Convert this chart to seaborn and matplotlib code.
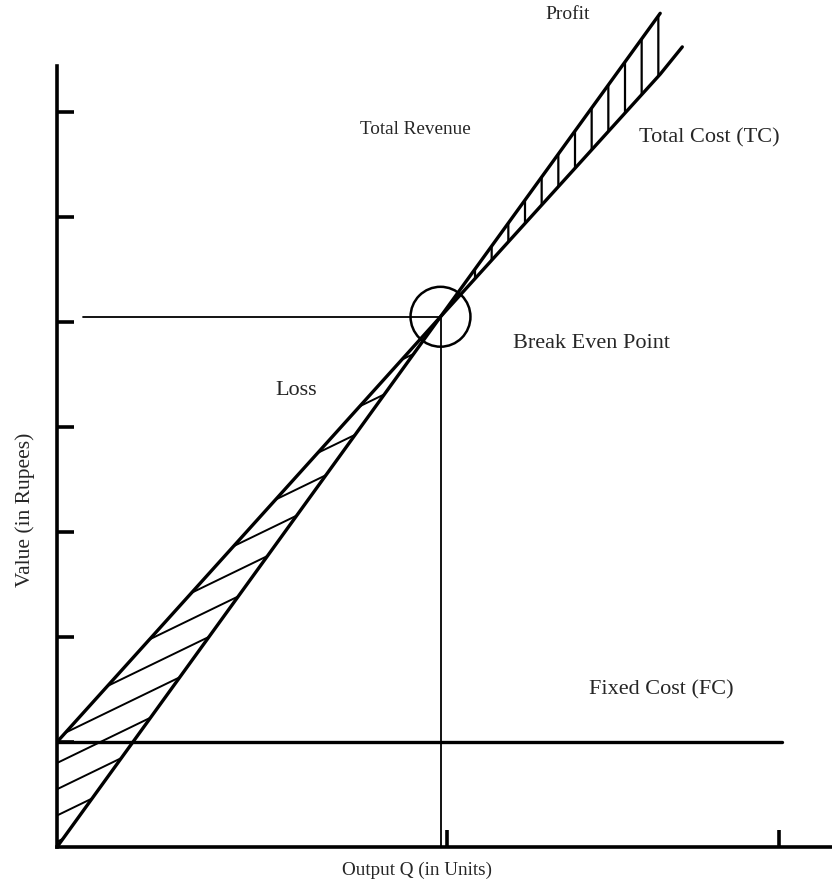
import numpy as np
import pandas as pd
import seaborn as sns
import matplotlib.pyplot as plt
from matplotlib.collections import LineCollection
from matplotlib.patches import Polygon

# break-even chart, values in chart units (output Q, value in rupees)
fc_value = 1.0
bep_q, bep_v = 5.9, 5.05

tr_q = [0.0, 5.9, 9.28]
tr_v = [0.0, 5.05, 7.94]

tc_q = [0.0, 5.9, 9.28, 9.62]
tc_v = [1.0, 5.05, 7.36, 7.62]

fc_q = [0.0, 11.15]
fc_v = [1.0, 1.0]

y_ticks = [1, 2, 3, 4, 5, 6, 7]
x_ticks = [6.0, 11.1]

# text, position, font size
labels = [
    ('Profit', 7.85, 7.93, 14),
    ('Total Revenue', 5.51, 6.83, 13.8),
    ('Total Cost (TC)', 10.03, 6.75, 16),
    ('Break Even Point', 8.23, 4.80, 16),
    ('Loss', 3.68, 4.35, 16),
    ('Fixed Cost (FC)', 9.29, 1.50, 16),
]

sns.set_style("white")
plt.rcParams['font.family'] = ['Liberation Serif', 'DejaVu Serif']
plt.rcParams['hatch.linewidth'] = 1.6

fig = plt.figure(figsize=(8.32, 8.83), dpi=100)
ax = fig.add_axes([57 / 832, 36 / 883, 775 / 832, 847 / 883])

lines = pd.concat([
    pd.DataFrame({'q': tr_q, 'v': tr_v, 'line': 'TR'}),
    pd.DataFrame({'q': tc_q, 'v': tc_v, 'line': 'TC'}),
    pd.DataFrame({'q': fc_q, 'v': fc_v, 'line': 'FC'}),
]).reset_index(drop=True)
sns.lineplot(data=lines, x='q', y='v', units='line', estimator=None,
             color='black', linewidth=2.4, sort=False, ax=ax)

# loss triangle: shallow diagonal hatching clipped to the region
loss = Polygon([(0, 0), (0, fc_value), (bep_q, bep_v)], closed=True,
               facecolor='none', edgecolor='none', transform=ax.transData)
ax.add_patch(loss)
hatch_slope = 0.30
segs = [[(0, c), (bep_q, c + hatch_slope * bep_q)]
        for c in np.arange(0.05, 3.3, 0.25)]
lc = LineCollection(segs, colors='black', linewidths=1.4)
ax.add_collection(lc)
lc.set_clip_path(loss)

# profit wedge with vertical hatching
ax.fill_between(tr_q[1:], tr_v[1:], tc_v[1:3], facecolor='none',
                edgecolor='black', hatch='|', linewidth=0)

# guide lines to the break even point
ax.plot([0.4, bep_q], [bep_v, bep_v], color='black', linewidth=1.3)
ax.plot([bep_q, bep_q], [0, bep_v], color='black', linewidth=1.3)
ax.scatter([bep_q], [bep_v], s=1860, facecolors='none',
           edgecolors='black', linewidths=1.8, zorder=5)

for txt, x, y, fs in labels:
    ax.text(x, y, txt, ha='center', va='center', fontsize=fs)

ax.text(5.54, -0.22, 'Output Q (in Units)', ha='center', va='center',
        fontsize=13.8, clip_on=False)
ax.text(-0.49, 3.21, 'Value (in Rupees)', ha='center', va='center',
        rotation=90, fontsize=15.5, clip_on=False)

ax.set_xlim(0, 775 / 65)
ax.set_ylim(0, 847 / 105)
ax.set_xticks(x_ticks)
ax.set_yticks(y_ticks)
ax.set_xticklabels([])
ax.set_yticklabels([])
ax.tick_params(left=True, bottom=True, direction='in', length=12,
               width=2.6, color='black')
ax.set_xlabel('')
ax.set_ylabel('')
for side in ['top', 'right']:
    ax.spines[side].set_visible(False)
for side in ['left', 'bottom']:
    ax.spines[side].set_linewidth(2.6)
    ax.spines[side].set_color('black')
ax.spines['left'].set_bounds(0, 7.44)

plt.savefig('out.png', dpi=100)
plt.close()
